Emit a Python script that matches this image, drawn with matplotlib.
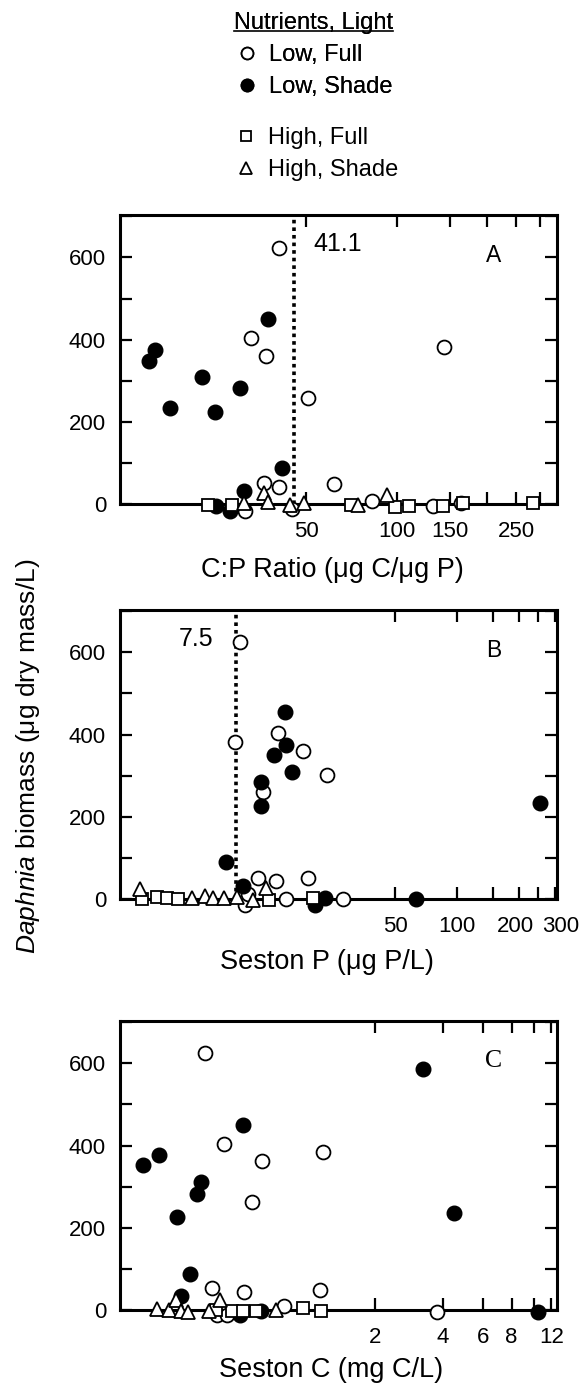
import matplotlib
matplotlib.use("Agg")
import matplotlib.pyplot as plt
from matplotlib.lines import Line2D
from matplotlib.transforms import ScaledTranslation
from matplotlib.ticker import FixedLocator, FixedFormatter, NullLocator, MultipleLocator

plt.rcParams['font.family'] = ['Liberation Sans', 'DejaVu Sans']
plt.rcParams['mathtext.fontset'] = 'custom'
plt.rcParams['mathtext.rm'] = 'Liberation Sans'
plt.rcParams['mathtext.it'] = 'Liberation Sans:italic'

# ---------------- data ----------------
# Panel A: C:P ratio
A_lowfull_x = [40.6, 32.7, 36.8, 50.6, 143.6, 36.3, 40.6, 61.9, 82.6, 31.3, 44.8, 131.7, 163]
A_lowfull_y = [624, 405, 360, 258, 382, 51, 43, 49, 8, -16, -12, -4, 4]
A_lowshade_x = [15.0, 15.7, 17.7, 22.5, 25.0, 30.2, 37.5, 41.7, 31.2, 25.2, 27.9]
A_lowshade_y = [349, 375, 235, 310, 225, 283, 450, 87, 32, -4, -16]
A_highfull_x = [23.6, 28.3, 70.5, 98.7, 110, 142, 166, 283]
A_highfull_y = [-2, -2, -2, -6, -4, -4, 2, 2]
A_highshade_x = [31.2, 36.3, 37.5, 44.2, 49.4, 74.2, 93]
A_highshade_y = [4, 27, 6, -2, 2, -2, 22]

# Panel B: Seston P
B_lowfull_x = [8.77, 8.29, 13.5, 17.7, 23.2, 11.3, 10.7, 13.1, 18.9, 14.7, 28.0, 9.27, 9.6]
B_lowfull_y = [624, 381, 405, 361, 302, 261, 52, 44, 50, -1, -1, -15, 12]
B_lowshade_x = [14.5, 14.7, 12.85, 15.7, 11.1, 11.1, 255, 7.5, 9.1, 20.4, 22.8, 63.1]
B_lowshade_y = [454, 375, 350, 308, 285, 227, 234, 91, 32, -15, 2, -1]
B_highfull_x = [2.92, 3.47, 3.87, 4.35, 12.2, 19.8]
B_highfull_y = [-1, 5, 2, -1, -2, 2]
B_highshade_x = [2.87, 5.1, 5.92, 6.5, 7.3, 8.45, 10.15, 11.7]
B_highshade_y = [25, 2, 7, 2, 2, 4, -2, 27]

# Panel C: Seston C
C_lowfull_x = [0.357, 0.432, 0.640, 0.573, 1.184, 0.382, 0.530, 1.153, 0.794, 3.75, 0.402, 0.445]
C_lowfull_y = [625, 405, 363, 262, 384, 53, 45, 49, 10, -4, -12, -12]
C_lowshade_x = [0.191, 0.224, 0.268, 0.342, 0.330, 0.526, 3.245, 4.458, 0.306, 0.281, 0.512, 0.634, 10.5]
C_lowshade_y = [353, 377, 227, 311, 282, 450, 586, 237, 88, 34, -13, -2, -4]
C_highfull_x = [0.398, 0.471, 0.528, 0.602, 0.965, 1.162]
C_highfull_y = [0, -2, -2, -2, 4, -2]
C_highshade_x = [0.2205, 0.249, 0.2675, 0.281, 0.30, 0.372, 0.416, 0.736]
C_highshade_y = [2, 0, 24, -2, -4, -2, 24, 0]

A_ticks = [50, 100, 150, 200, 250, 300]
A_ticklabels = ['50', '100', '150', '', '250', '']
B_ticks = [50, 100, 150, 200, 250, 300]
B_ticklabels = ['50', '100', '', '200', '', '300']
C_ticks = [2, 4, 6, 8, 10, 12]
C_ticklabels = ['2', '4', '6', '8', '', '12']

A_cut_pos, A_cut_label = 45.5, '41.1'
B_cut_pos, B_cut_label = 8.35, '7.5'

y_major = [0, 200, 400, 600]

legend_labels = ['Low, Full', 'Low, Shade', 'High, Full', 'High, Shade']

# ---------------- figure ----------------
W, H = 583, 1386
fig = plt.figure(figsize=(W / 100, H / 100), dpi=100)

def px_ax(x0, y_zero, x1, y_top):
    return [x0 / W, 1 - y_zero / H, (x1 - x0) / W, (y_zero - y_top) / H]

axA = fig.add_axes(px_ax(120, 504.3, 556.7, 215))
axB = fig.add_axes(px_ax(120, 899, 556.7, 610))
axC = fig.add_axes(px_ax(120, 1310, 556.7, 1021))

styles = {
    'lowfull': dict(marker='o', ms=10, mfc='white', mec='black', mew=1.3),
    'lowshade': dict(marker='o', ms=10.5, mfc='black', mec='black', mew=1.0),
    'highfull': dict(marker='s', ms=8, mfc='white', mec='black', mew=1.3),
    'highshade': dict(marker='^', ms=9.5, mfc='white', mec='black', mew=1.3),
}

def draw(ax, groups, xlim, ticks, ticklabels, letter, letter_font, letter_size, xlabel, xlabel_pos):
    for key, (xs, ys) in groups:
        ax.plot(xs, ys, ls='none', clip_on=False, zorder=4, **styles[key])
    ax.set_xscale('log')
    ax.set_xlim(*xlim)
    ax.set_ylim(0, 703)
    ax.xaxis.set_major_locator(FixedLocator(ticks))
    ax.xaxis.set_major_formatter(FixedFormatter(ticklabels))
    ax.xaxis.set_minor_locator(NullLocator())
    ax.yaxis.set_major_locator(FixedLocator(y_major))
    ax.yaxis.set_minor_locator(MultipleLocator(100))
    ax.tick_params(axis='both', which='both', direction='in', top=True, right=True,
                   length=8.5, width=1.6, labelsize=16)
    ax.tick_params(axis='x', pad=12)
    ax.tick_params(axis='y', pad=10)
    for sp in ax.spines.values():
        sp.set_linewidth(2.2)
        sp.set_zorder(3)
    ax.text(0.856, 0.86, letter, transform=ax.transAxes, ha='center', va='center',
            fontsize=letter_size, family=letter_font)
    ax.set_xlabel(xlabel, fontsize=19.5)
    ax.xaxis.set_label_coords(*xlabel_pos)
    ax.xaxis.label.set_va('center')

draw(axA, [('lowfull', (A_lowfull_x, A_lowfull_y)), ('lowshade', (A_lowshade_x, A_lowshade_y)),
           ('highfull', (A_highfull_x, A_highfull_y)), ('highshade', (A_highshade_x, A_highshade_y))],
     (12.05, 340), A_ticks, A_ticklabels, 'A', ['Liberation Sans'], 16.5,
     'C:P Ratio (μg C/μg P)', (0.487, -0.227))
draw(axB, [('lowfull', (B_lowfull_x, B_lowfull_y)), ('lowshade', (B_lowshade_x, B_lowshade_y)),
           ('highfull', (B_highfull_x, B_highfull_y)), ('highshade', (B_highshade_x, B_highshade_y))],
     (2.28, 307), B_ticks, B_ticklabels, 'B', ['Liberation Sans'], 16.5,
     'Seston P (μg P/L)', (0.475, -0.218))
draw(axC, [('lowfull', (C_lowfull_x, C_lowfull_y)), ('lowshade', (C_lowshade_x, C_lowshade_y)),
           ('highfull', (C_highfull_x, C_highfull_y)), ('highshade', (C_highshade_x, C_highshade_y))],
     (0.151, 12.65), C_ticks, C_ticklabels, 'C', ['Liberation Serif'], 18.5,
     'Seston C (mg C/L)', (0.483, -0.2076))

# nudge crowded "200"/"300" labels in panel B apart
labsB = axB.get_xticklabels()
labsB[3].set_transform(labsB[3].get_transform() + ScaledTranslation(-3 / 100, 0, fig.dpi_scale_trans))
labsB[5].set_transform(labsB[5].get_transform() + ScaledTranslation(6 / 100, 0, fig.dpi_scale_trans))

# threshold lines
for ax, pos, lab, dx in [(axA, A_cut_pos, A_cut_label, 14.5), (axB, B_cut_pos, B_cut_label, -16)]:
    ax.axvline(pos, color='black', lw=2.6, ls=(0, (1, 1.1)), zorder=2)
    ax.annotate(lab, xy=(pos, 632), xycoords='data', xytext=(dx, 0), textcoords='offset points',
                ha='left' if dx > 0 else 'right', va='center', fontsize=18)

# y label
fig.text(28 / W, 1 - 559 / H, r'$\mathit{Daphnia}$ biomass (μg dry mass/L)', rotation=90,
         ha='center', va='top', fontsize=19)

# legend
def handle(key):
    st = dict(styles[key])
    st['ms'] = st['ms'] * 0.85
    return Line2D([], [], ls='none', **st)

leg1 = fig.legend([handle('lowfull'), handle('lowshade')], legend_labels[:2],
                  title='Nutrients, Light', loc='upper left', bbox_to_anchor=(234 / W, 1 - 12 / H),
                  frameon=False, fontsize=17, title_fontsize=17, borderpad=0, handlelength=1.0,
                  handletextpad=0.45, labelspacing=0.42, borderaxespad=0)
leg2 = fig.legend([handle('highfull'), handle('highshade')], legend_labels[2:],
                  loc='upper left', bbox_to_anchor=(234 / W, 1 - 127 / H),
                  frameon=False, fontsize=17, borderpad=0, handlelength=1.0,
                  handletextpad=0.45, labelspacing=0.42, borderaxespad=0)
fig.add_artist(leg1)

fig.canvas.draw()
tb = leg1.get_title().get_window_extent(fig.canvas.get_renderer())
uy = tb.y0 + 0.13 * tb.height
fig.add_artist(Line2D([tb.x0 / W, tb.x1 / W], [uy / H, uy / H], transform=fig.transFigure,
                      color='black', lw=1.2))

fig.savefig('out.png', dpi=100)
